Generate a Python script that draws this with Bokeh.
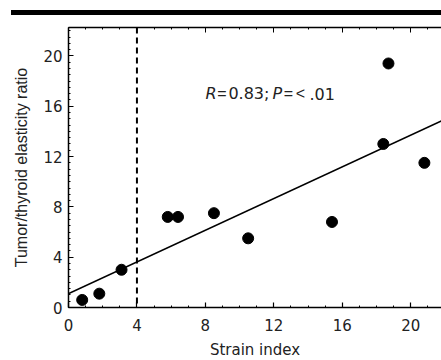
from bokeh.plotting import figure
from bokeh.models import (Span, Slope, Label, LinearAxis, SingleIntervalTicker, Range1d, Div)
from bokeh.layouts import column
from bokeh.embed import file_html
from bokeh.resources import INLINE

# data
strain_index = [0.8, 1.8, 3.1, 5.8, 6.4, 8.5, 10.5, 15.4, 18.4, 18.7, 20.8]
elasticity_ratio = [0.6, 1.1, 3.0, 7.2, 7.2, 7.5, 5.5, 6.8, 13.0, 19.4, 11.5]
fit_intercept = 1.1
fit_slope = 0.63
cutoff = 4

TF = "DejaVu Sans"

p = figure(width=441, height=346, output_backend="svg", toolbar_location=None,
           x_range=Range1d(0, 21.8), y_range=Range1d(0, 22.26),
           min_border_left=68, min_border_right=0, min_border_top=12, min_border_bottom=53)
p.outline_line_color = None
p.grid.visible = False

for ax, nminor in ((p.xaxis[0], 4), (p.yaxis[0], 8)):
    ax.ticker = SingleIntervalTicker(interval=4, num_minor_ticks=nminor)
    ax.major_tick_in = 5
    ax.major_tick_out = 0
    ax.minor_tick_in = 2
    ax.minor_tick_out = 0
    ax.axis_line_width = 1.5
    ax.major_tick_line_width = 1.2
    ax.major_label_text_font = TF
    ax.major_label_text_font_size = "15px"
    ax.major_label_text_color = "#222222"
    ax.axis_label_text_font_style = "normal"
    ax.axis_label_text_color = "#222222"

p.xaxis.axis_label = "Strain index"
p.xaxis.axis_label_text_font = TF
p.xaxis.axis_label_text_font_size = "15px"
p.xaxis.major_label_standoff = 11
p.xaxis.axis_label_standoff = 7

p.yaxis.axis_label = "Tumor/thyroid elasticity ratio"
p.yaxis.axis_label_text_font = "Liberation Sans"
p.yaxis.axis_label_text_font_size = "16px"
p.yaxis.major_label_standoff = 6
p.yaxis.axis_label_standoff = 10

top = LinearAxis(ticker=SingleIntervalTicker(interval=4, num_minor_ticks=4),
                 major_label_text_font_size="8px", major_label_text_color=None,
                 major_tick_in=5, major_tick_out=0,
                 minor_tick_in=2, minor_tick_out=0, axis_line_width=1.5)
p.add_layout(top, "above")

p.add_layout(Span(location=cutoff, dimension="height", line_dash="6 4",
                  line_width=2, line_color="black"))
p.add_layout(Slope(gradient=fit_slope, y_intercept=fit_intercept,
                   line_color="black", line_width=1.6))

p.scatter(strain_index, elasticity_ratio, size=11, color="black")

pieces = [("R", "italic", 0, "left", TF), ("=", "normal", 16.5, "center", "Liberation Sans"),
          ("0.83;", "normal", 23, "left", TF),
          ("P", "italic", 67, "left", TF), ("=", "normal", 83, "center", "Liberation Sans"),
          ("<", "normal", 95, "center", "Liberation Sans"), (".01", "normal", 104, "left", TF)]
for txt, style, off, align, font in pieces:
    p.add_layout(Label(x=8.0, y=17.0, x_offset=off, text=txt, text_font=font,
                       text_font_size="16px", text_font_style=style, text_align=align,
                       text_baseline="middle", text_color="#222222"))

bar = Div(text="", width=430, height=5, margin=(10, 0, 0, 11),
          styles={"background-color": "black"})

layout = column(bar, p, spacing=0)
open("out.html", "w").write(file_html(layout, INLINE))
